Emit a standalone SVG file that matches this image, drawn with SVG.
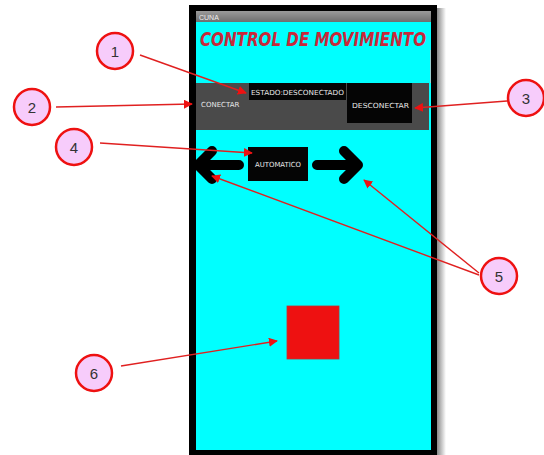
<svg xmlns="http://www.w3.org/2000/svg" width="544" height="455" viewBox="0 0 544 455">
  <defs>
    <linearGradient id="titlebar" x1="0" y1="0" x2="0" y2="1">
      <stop offset="0" stop-color="#9a9a9a"/>
      <stop offset="1" stop-color="#6e6e6e"/>
    </linearGradient>
    <linearGradient id="shadow" x1="0" y1="0" x2="1" y2="0">
      <stop offset="0" stop-color="#888"/>
      <stop offset="1" stop-color="#fff"/>
    </linearGradient>
    <marker id="head" viewBox="0 0 10 10" refX="9" refY="5" markerWidth="6" markerHeight="6" orient="auto" markerUnits="userSpaceOnUse">
      <path d="M0,0 L10,5 L0,10 z" fill="#ee1111"/>
    </marker>
    <marker id="headBig" viewBox="0 0 10 10" refX="9" refY="5" markerWidth="9" markerHeight="9" orient="auto" markerUnits="userSpaceOnUse">
      <path d="M0,0 L10,5 L0,10 z" fill="#ee1111"/>
    </marker>
  </defs>
  <style>
    .callout circle { fill: #f7ccfb; stroke: #ee1111; stroke-width: 2.5; }
    .callout text { font-family: "Liberation Sans", Arial, sans-serif; font-size: 15px; fill: #333; text-anchor: middle; }
    .lead { stroke: #e02020; stroke-width: 1.4; fill: none; marker-end: url(#headBig); }
    .btn { fill: #050505; }
    .btntext { font-family: "DejaVu Sans", sans-serif; font-size: 7px; fill: #e8e8e8; }
    .bigarrow { stroke: #000; stroke-width: 10; stroke-linecap: round; stroke-linejoin: round; fill: none; }
  </style>

  <rect width="544" height="455" fill="#fff"/>

  <!-- phone screen -->
  <g id="screen">
    <rect x="437" y="8" width="9" height="447" fill="url(#shadow)"/>
    <rect x="189" y="5" width="248" height="455" fill="#000"/>
    <rect x="196" y="11" width="235" height="11" fill="url(#titlebar)"/>
    <text x="199" y="20" font-family="Liberation Sans, Arial, sans-serif" font-size="7" fill="#eee">CUNA</text>
    <rect x="196" y="22" width="235" height="428" fill="#00ffff"/>
    <line x1="430.5" y1="50" x2="430.5" y2="83" stroke="#9acfd0" stroke-width="1"/>
    <text x="200" y="46" font-family="DejaVu Sans, sans-serif" font-weight="bold" font-style="italic" font-size="19" fill="#c8283a" textLength="226" lengthAdjust="spacingAndGlyphs">CONTROL DE MOVIMIENTO</text>
  </g>

  <!-- connection bar -->
  <g id="connection-bar">
    <rect x="196" y="83" width="233" height="47" fill="#4a4a4a"/>
    <text class="btntext" x="201" y="107">CONECTAR</text>
  </g>
  <g id="estado">
    <rect class="btn" x="249" y="83" width="97" height="17"/>
    <text class="btntext" x="251" y="94.5" textLength="93" lengthAdjust="spacingAndGlyphs">ESTADO:DESCONECTADO</text>
  </g>
  <g id="desconectar">
    <rect class="btn" x="347" y="83" width="65" height="40"/>
    <text class="btntext" x="352" y="108" textLength="57" lengthAdjust="spacingAndGlyphs">DESCONECTAR</text>
  </g>

  <!-- mode controls -->
  <g id="automatico">
    <rect class="btn" x="248" y="147" width="60" height="34"/>
    <text class="btntext" x="278" y="167" text-anchor="middle" textLength="46" lengthAdjust="spacingAndGlyphs">AUTOMATICO</text>
  </g>
  <g id="arrow-left">
    <path class="bigarrow" d="M239,165 L199,165 M212,151 L198,165 L212,179"/>
  </g>
  <g id="arrow-right">
    <path class="bigarrow" d="M317,165 L357,165 M344,151 L358,165 L344,179"/>
  </g>

  <!-- motion indicator -->
  <g id="indicator">
    <rect x="287" y="306" width="52" height="53" fill="#ee1111" stroke="#c03030" stroke-width="0.8"/>
  </g>

  <!-- leader lines -->
  <g id="connectors">
    <line class="lead" x1="140" y1="55" x2="246" y2="93"/>
    <line class="lead" x1="56" y1="107" x2="192" y2="104"/>
    <line class="lead" x1="507" y1="101" x2="415" y2="108"/>
    <line class="lead" x1="100" y1="143" x2="252" y2="153"/>
    <line class="lead" x1="479" y1="275" x2="212" y2="176"/>
    <line class="lead" x1="479" y1="273" x2="364" y2="180"/>
    <line class="lead" x1="121" y1="366" x2="277" y2="341"/>
  </g>

  <!-- numbered callouts -->
  <g id="callout-1" class="callout"><circle cx="115" cy="51" r="18"/><text x="115" y="56.5">1</text></g>
  <g id="callout-2" class="callout"><circle cx="32" cy="107" r="18"/><text x="32" y="112.5">2</text></g>
  <g id="callout-3" class="callout"><circle cx="526" cy="98" r="18"/><text x="526" y="103.5">3</text></g>
  <g id="callout-4" class="callout"><circle cx="74" cy="147" r="18"/><text x="74" y="152.5">4</text></g>
  <g id="callout-5" class="callout"><circle cx="499" cy="276" r="18"/><text x="499" y="281.5">5</text></g>
  <g id="callout-6" class="callout"><circle cx="94" cy="373" r="18"/><text x="94" y="378.5">6</text></g>
</svg>
